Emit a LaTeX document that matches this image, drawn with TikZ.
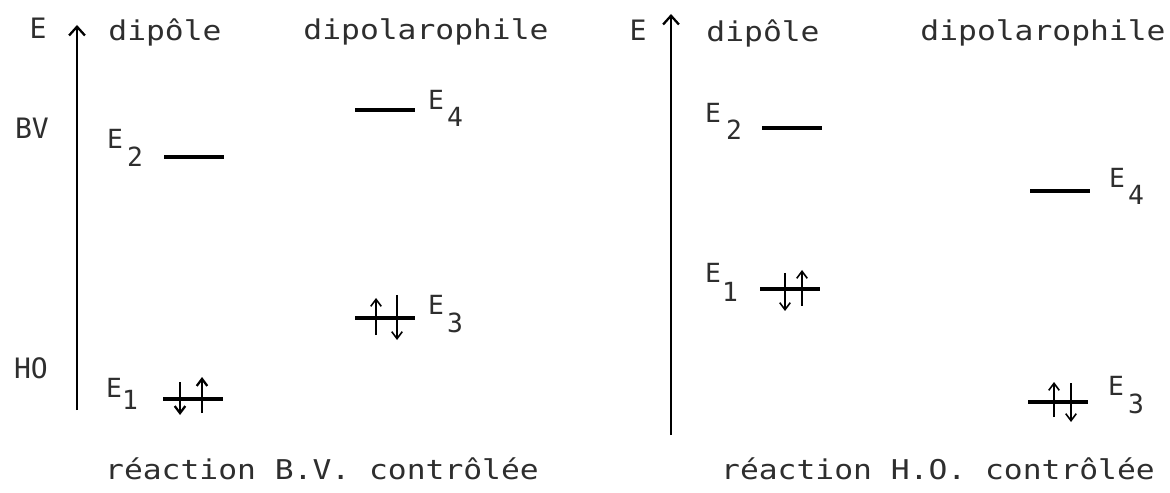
\documentclass[tikz,border=0pt]{standalone}
\usepackage{fontspec}
\newfontfamily\typew[FakeStretch=1.15]{DejaVu Sans Mono}
\newfontfamily\typee{DejaVu Sans Mono}
\usepackage{tikz}
\usetikzlibrary{arrows.meta}
\definecolor{ink}{HTML}{2E2E2E}

% an orbital level: name, centre
\newcommand\orbital[2]{%
  \coordinate (#1) at (#2);
  \draw[level] ([shift={(-30,0)}]#1) -- ([shift={(30,0)}]#1);}
% an energy label E_n: name, position of the E, position of the index, index
\newcommand\elabel[4]{%
  \node[elbl] (#1) at (#2) {E};
  \node[elbl] (#1i) at (#3) {#4};}

\begin{document}
\begin{tikzpicture}[x=0.02cm,y=-0.02cm,
  lbl/.style={inner sep=0pt,text=ink,font=\typew\fontsize{15.5}{17}\selectfont},
  side/.style={inner sep=0pt,text=ink,font=\typee\fontsize{16}{18}\selectfont},
  elbl/.style={inner sep=0pt,text=ink,font=\typee\fontsize{15}{17}\selectfont},
  level/.style={line width=2pt},
  axis/.style={line width=1.3pt,-{Straight Barb[length=5pt,width=9pt]}},
  spin/.style={line width=0.9pt,-{Straight Barb[length=4pt,width=6pt]}}]
  \useasboundingbox (0,0) rectangle (1170,493);
  % B.V. controlled reaction
  \coordinate (ax1b) at (77,410);
  \coordinate (ax1t) at (77,25);
  \draw[axis] (ax1b) -- (ax1t);
  \node[side] (e1) at (38,28) {E};
  \node[side] (bv) at (32,128) {BV};
  \node[side] (ho) at (31,368) {HO};
  \node[lbl] (dip1) at (165,32) {dipôle};
  \node[lbl] (dpp1) at (426,32) {dipolarophile};
  \orbital{a2}{194,157}
  \elabel{la2}{115,139}{135,157}{2}
  \orbital{a4}{385,110}
  \elabel{la4}{436,100}{455,117}{4}
  \orbital{a3}{385,318}
  \elabel{la3}{436,305}{455,323}{3}
  \draw[spin] ([shift={(-9,17)}]a3) -- ([shift={(-9,-20)}]a3);
  \draw[spin] ([shift={(12,-23)}]a3) -- ([shift={(12,22)}]a3);
  \orbital{a1}{193,399}
  \elabel{la1}{114,388}{130,400}{1}
  \draw[spin,line width=1.3pt] ([shift={(-13,-17)}]a1) -- ([shift={(-13,16)}]a1);
  \draw[spin,line width=1.3pt] ([shift={(9,14)}]a1) -- ([shift={(9,-22)}]a1);
  \node[lbl] (cap1) at (322,469) {réaction B.V. contrôlée};
  % H.O. controlled reaction
  \coordinate (ax2b) at (671,435);
  \coordinate (ax2t) at (671,14);
  \draw[axis] (ax2b) -- (ax2t);
  \node[side] (e2) at (638,30) {E};
  \node[lbl] (dip2) at (763,33) {dipôle};
  \node[lbl] (dpp2) at (1043,33) {dipolarophile};
  \orbital{b2}{792,128}
  \elabel{lb2}{713,113}{734,130}{2}
  \orbital{b4}{1060,191}
  \elabel{lb4}{1117,178}{1136,195}{4}
  \orbital{b1}{790,289}
  \elabel{lb1}{713,273}{730,292}{1}
  \draw[spin] ([shift={(-5,-16)}]b1) -- ([shift={(-5,22)}]b1);
  \draw[spin] ([shift={(12,17)}]b1) -- ([shift={(12,-19)}]b1);
  \orbital{b3}{1058,402}
  \elabel{lb3}{1116,386}{1136,404}{3}
  \draw[spin] ([shift={(-4,15)}]b3) -- ([shift={(-4,-20)}]b3);
  \draw[spin] ([shift={(13,-19)}]b3) -- ([shift={(13,20)}]b3);
  \node[lbl] (cap2) at (938,469) {réaction H.O. contrôlée};
\end{tikzpicture}
\end{document}
